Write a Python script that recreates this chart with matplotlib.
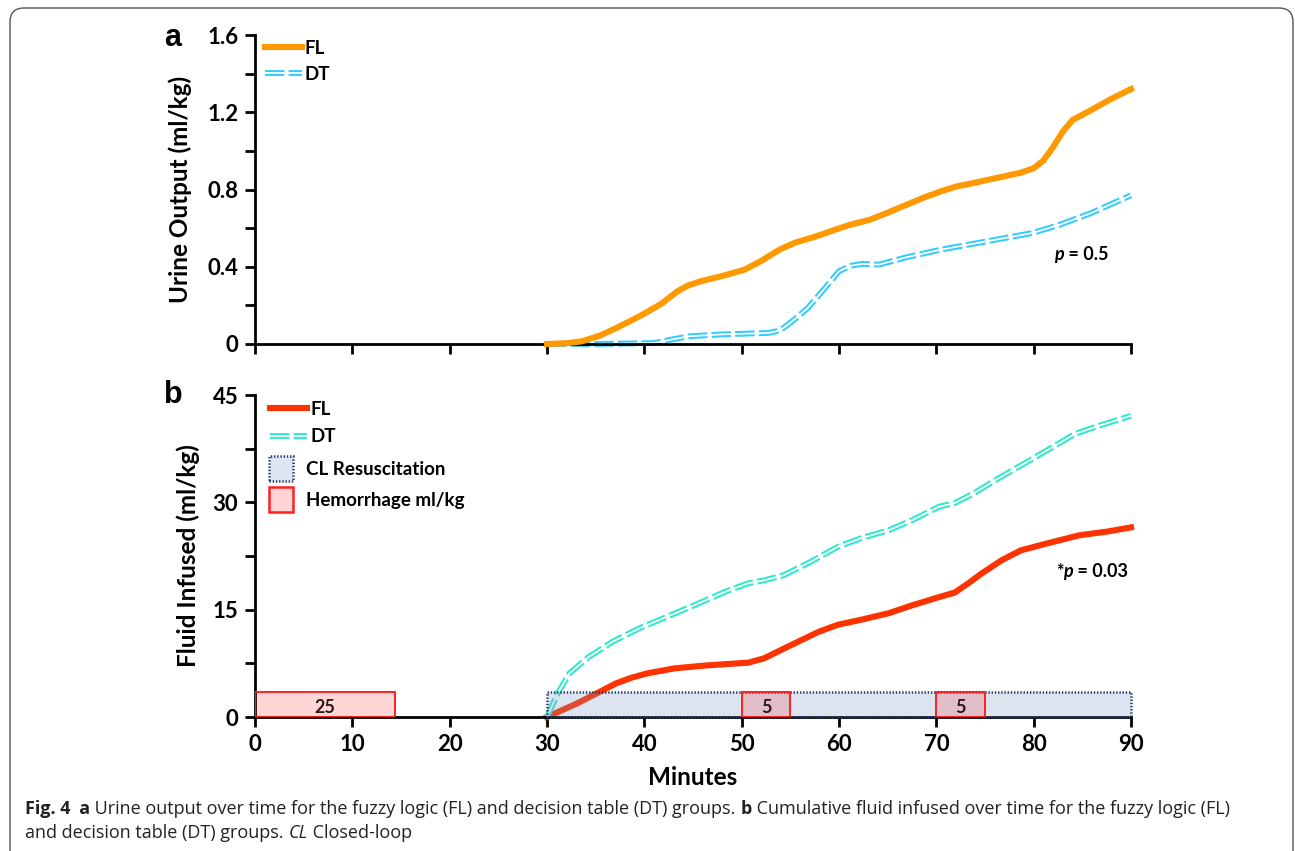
import matplotlib
matplotlib.use("Agg")
import matplotlib.pyplot as plt
import matplotlib.patches as mpatches
from matplotlib.legend_handler import HandlerTuple, HandlerPatch
from matplotlib.transforms import IdentityTransform

# ---- data ----
# panel a: urine output (ml/kg)
fl_a_x = [30, 32, 33.6, 35.5, 37, 38.6, 40.1, 41.8, 43.4, 44.5, 45.8, 48, 50.3, 52,
          53.9, 55.5, 57.5, 59.5, 61.2, 63.2, 65, 66.9, 68.8, 70.5, 72, 73.5, 76.2,
          78.6, 80, 81, 82, 83, 84, 85.5, 88, 90]
fl_a_y = [0, 0.004, 0.014, 0.045, 0.08, 0.12, 0.16, 0.21, 0.273, 0.303, 0.325, 0.352,
          0.385, 0.43, 0.489, 0.525, 0.555, 0.59, 0.618, 0.644, 0.68, 0.72, 0.76,
          0.791, 0.815, 0.83, 0.86, 0.886, 0.91, 0.95, 1.02, 1.10, 1.16, 1.20, 1.27, 1.32]
dt_a_x = [30, 35, 41, 43, 44.6, 48, 52.7, 53.6, 54.3, 55.5, 56.8, 58.4, 60, 61.2,
          62.4, 64.1, 67, 70.5, 75, 79.9, 82.7, 86, 90]
dt_a_y = [0, 0.0, 0.005, 0.025, 0.04, 0.05, 0.057, 0.066, 0.083, 0.13, 0.187, 0.28,
          0.377, 0.405, 0.415, 0.411, 0.45, 0.489, 0.53, 0.575, 0.618, 0.68, 0.77]

# panel b: cumulative fluid infused (ml/kg)
fl_b_x = [30, 33.1, 35.1, 37.1, 38.7, 40.3, 43.1, 46.3, 50.7, 52.3, 54.7, 57.9, 59.9,
          62.3, 65.1, 67.5, 69.9, 71.9, 73.3, 74.7, 76.7, 78.7, 81.5, 84.7, 87.5, 90]
fl_b_y = [0, 1.9, 3.3, 4.7, 5.5, 6.1, 6.8, 7.2, 7.6, 8.2, 9.8, 11.9, 12.9,
          13.6, 14.5, 15.6, 16.6, 17.4, 18.7, 20.1, 21.9, 23.3, 24.3, 25.4, 25.9, 26.5]
dt_b_x = [30, 31.1, 32.3, 34.3, 36.7, 39.5, 42.3, 45.1, 48.3, 50.7, 52.3, 54.3,
          57.1, 59.9, 62.3, 65.1, 67.5, 70.3, 71.9, 73.9, 76.3, 79.9, 84.3, 86.7, 90]
dt_b_y = [0, 3.3, 6.1, 8.4, 10.5, 12.4, 14.0, 15.6, 17.5, 18.7, 19.1, 19.8,
          21.7, 23.8, 25.0, 26.1, 27.5, 29.4, 29.9, 31.3, 33.3, 36.1, 39.6, 40.7, 42.1]

# hemorrhage events and closed-loop period
hem_start = [0, 50, 70]
hem_width = [14.4, 5, 5]
hem_labels = ["25", "5", "5"]
box_height = 3.5
cl_start = 30
cl_width = 60

FONT = "Lato"
plt.rcParams["font.family"] = [FONT, "DejaVu Sans"]
plt.rcParams["font.weight"] = "bold"
plt.rcParams["lines.scale_dashes"] = False

fig = plt.figure(figsize=(12.95, 8.51), dpi=100)
ax_a = fig.add_axes([255 / 1295, 1 - 344 / 851, 876 / 1295, 309 / 851])
ax_b = fig.add_axes([255 / 1295, 1 - 717 / 851, 876 / 1295, 322 / 851])

DASH = (14, 3)
LEG_PROP = {"family": FONT, "weight": "bold", "size": 13.5}


def style_axis(ax):
    for s in ["top", "right"]:
        ax.spines[s].set_visible(False)
    for s in ["left", "bottom"]:
        ax.spines[s].set_linewidth(2.0)
    ax.tick_params(which="major", direction="out", length=7, width=2,
                   labelsize=16, pad=5)
    ax.tick_params(which="minor", direction="out", length=7, width=2)
    ax.set_xlim(0, 90)
    ax.set_xticks(range(0, 91, 10))
    for lab in ax.get_xticklabels() + ax.get_yticklabels():
        lab.set_fontweight("bold")


def double_line(ax, x, y, color, zorder=2):
    outer, = ax.plot(x, y, color=color, lw=4.2, dashes=DASH, zorder=zorder,
                     clip_on=False, solid_joinstyle="round")
    inner, = ax.plot(x, y, color="white", lw=1.3, zorder=zorder + 0.1, clip_on=False,
                     solid_joinstyle="round")
    return outer, inner


# ---- panel a ----
fl_a, = ax_a.plot(fl_a_x, fl_a_y, color="#FF9900", lw=4.4, zorder=3, clip_on=False,
                  solid_joinstyle="round")
dt_a = double_line(ax_a, dt_a_x, dt_a_y, "#33CCFF")
ax_a.set_ylim(0, 1.6)
ax_a.set_yticks([0, 0.4, 0.8, 1.2, 1.6])
ax_a.set_yticklabels(["0", "0.4", "0.8", "1.2", "1.6"])
ax_a.set_yticks([0.2, 0.6, 1.0, 1.4], minor=True)
style_axis(ax_a)
ax_a.set_xticklabels([])
ax_a.set_ylabel("Urine Output (ml/kg)", fontsize=17.5, fontweight="bold", labelpad=11)

ax_a.annotate("p", (83.1, 0.465), ha="right", va="center", fontsize=13,
              style="italic", fontweight="bold")
ax_a.annotate(" = 0.5", (83.1, 0.465), ha="left", va="center", fontsize=13,
              fontweight="bold")

ax_a.legend([fl_a, dt_a], ["FL", "DT"], handler_map={tuple: HandlerTuple(ndivide=1)},
            loc="upper left", bbox_to_anchor=(0.011, 0.985), frameon=False,
            borderpad=0, borderaxespad=0,
            handlelength=2.0, handletextpad=0.15, labelspacing=0.5, prop=LEG_PROP)

# ---- panel b ----
fl_b, = ax_b.plot(fl_b_x, fl_b_y, color="#FF3300", lw=4.4, zorder=2, clip_on=False,
                  solid_joinstyle="round")
dt_b = double_line(ax_b, dt_b_x, dt_b_y, "#2EEBC8")

CL_EDGE = "#1F3A6A"
CL_LS = (0, (1, 1.3))
ax_b.bar(cl_start, box_height, width=cl_width, align="edge",
         facecolor=(0.47, 0.59, 0.76, 0.25), edgecolor=CL_EDGE,
         linestyle=CL_LS, linewidth=1.8, zorder=3, clip_on=False)
ax_b.bar(hem_start, box_height, width=hem_width, align="edge",
         facecolor=(1, 0.03, 0.03, 0.17), edgecolor="#FF2020",
         linewidth=1.4, zorder=4)
for xs, w, lab in zip(hem_start, hem_width, hem_labels):
    ax_b.text(xs + w / 2, box_height * 0.38, lab, ha="center", va="center",
              fontsize=13, fontweight="bold", color="#2a1a1a", zorder=5)

ax_b.set_ylim(0, 45)
ax_b.set_yticks([0, 15, 30, 45])
ax_b.set_yticks([7.5, 22.5, 37.5], minor=True)
style_axis(ax_b)
ax_b.set_ylabel("Fluid Infused (ml/kg)", fontsize=17.5, fontweight="bold", labelpad=9)
ax_b.set_xlabel("Minutes", fontsize=17.5, fontweight="bold", labelpad=8)

ax_b.annotate("*", (84.0, 20.4), ha="right", va="center", fontsize=13,
              fontweight="bold", xytext=(-6.5, 0), textcoords="offset points")
ax_b.annotate("p", (84.0, 20.4), ha="right", va="center", fontsize=13,
              style="italic", fontweight="bold")
ax_b.annotate(" = 0.03", (84.0, 20.4), ha="left", va="center", fontsize=13,
              fontweight="bold")

leg_lines = ax_b.legend([fl_b, dt_b], ["FL", "DT"],
                        handler_map={tuple: HandlerTuple(ndivide=1)},
                        loc="upper left", bbox_to_anchor=(0.017, 0.982), frameon=False,
                        borderpad=0, borderaxespad=0,
                        handlelength=2.0, handletextpad=0.15, labelspacing=0.55,
                        prop=LEG_PROP)
ax_b.add_artist(leg_lines)


def square_patch(legend, orig_handle, xdescent, ydescent, width, height, fontsize):
    side = 17.5
    return mpatches.Rectangle((-xdescent, -ydescent + height / 2 - side / 2), side, side)


cl_handle = mpatches.Patch(facecolor="#DDE5F0", edgecolor=CL_EDGE, linestyle=CL_LS,
                           linewidth=1.8)
hem_handle = mpatches.Patch(facecolor="#FFD5D5", edgecolor="#FF2020", linewidth=1.8)
ax_b.legend([cl_handle, hem_handle], ["CL Resuscitation", "Hemorrhage ml/kg"],
            handler_map={mpatches.Patch: HandlerPatch(patch_func=square_patch)},
            loc="upper left", bbox_to_anchor=(0.016, 0.795), frameon=False,
            borderpad=0, borderaxespad=0,
            handlelength=1.65, handletextpad=0.3, labelspacing=0.75, prop=LEG_PROP)

# panel letters
fig.text(173 / 1295, 1 - 38 / 851, "a", fontsize=22, fontweight="bold",
         family="Liberation Sans", ha="center", va="center")
fig.text(173 / 1295, 1 - 395 / 851, "b", fontsize=22, fontweight="bold",
         family="Liberation Sans", ha="center", va="center")

# caption
cap_font = "Open Sans"
line1 = [("Fig. 4", "bold", "normal"), ("  a", "bold", "normal"),
         (" Urine output over time for the fuzzy logic (FL) and decision table (DT) groups. ", "normal", "normal"),
         ("b", "bold", "normal"),
         (" Cumulative fluid infused over time for the fuzzy logic (FL)", "normal", "normal")]
line2 = [("and decision table (DT) groups. ", "normal", "normal"), ("CL", "normal", "italic"),
         (" Closed-loop", "normal", "normal")]

fig.canvas.draw()
renderer = fig.canvas.get_renderer()
for parts, ypix in [(line1, 809), (line2, 833)]:
    x = 25
    for txt, wt, st in parts:
        t = fig.text(x / 1295, 1 - ypix / 851, txt, fontsize=13.0, fontweight=wt, style=st,
                     family=cap_font, ha="left", va="center", color="#222222")
        bb = t.get_window_extent(renderer)
        x += bb.width

# frame around figure
frame = mpatches.FancyBboxPatch((10, -30), 1283, 851 - 8 + 30,
                                boxstyle="round,pad=0,rounding_size=14",
                                transform=IdentityTransform(), facecolor="none",
                                edgecolor="#555555", linewidth=1.0)
fig.patches.append(frame)

fig.savefig("out.png", dpi=100)
